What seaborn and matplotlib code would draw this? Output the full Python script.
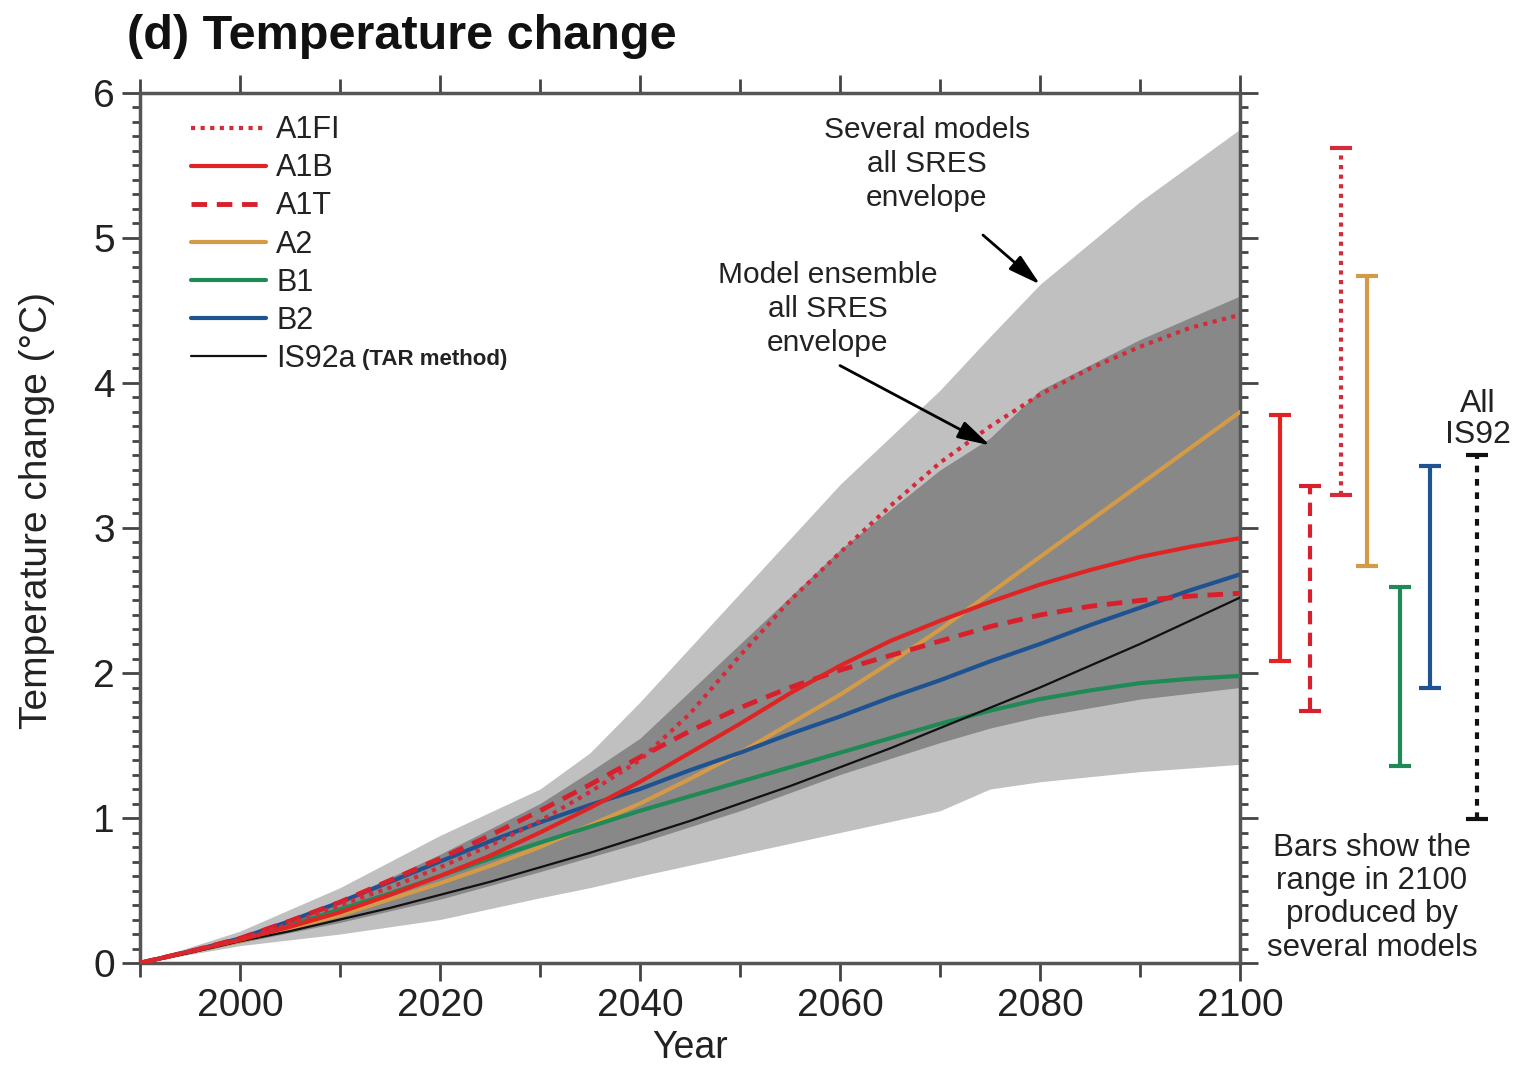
import numpy as np
import pandas as pd
import matplotlib
matplotlib.use("Agg")
import matplotlib.pyplot as plt
import seaborn as sns
from matplotlib.ticker import MultipleLocator
from matplotlib.lines import Line2D

# ---------------- data ----------------
years = [1990, 1995, 2000, 2005, 2010, 2015, 2020, 2025, 2030, 2035, 2040, 2045,
         2050, 2055, 2060, 2065, 2070, 2075, 2080, 2085, 2090, 2095, 2100]

a1fi = [0, 0.08, 0.16, 0.27, 0.40, 0.52, 0.66, 0.81, 0.98, 1.18, 1.40, 1.72,
        2.12, 2.50, 2.83, 3.15, 3.45, 3.70, 3.92, 4.10, 4.25, 4.38, 4.47]
a1b = [0, 0.08, 0.16, 0.25, 0.35, 0.47, 0.60, 0.74, 0.90, 1.07, 1.25, 1.45,
       1.65, 1.86, 2.05, 2.22, 2.36, 2.49, 2.61, 2.71, 2.80, 2.87, 2.93]
a1t = [0, 0.08, 0.17, 0.29, 0.42, 0.57, 0.72, 0.88, 1.05, 1.23, 1.42, 1.60,
       1.76, 1.90, 2.02, 2.12, 2.22, 2.32, 2.40, 2.46, 2.50, 2.53, 2.55]
a2 = [0, 0.08, 0.15, 0.24, 0.33, 0.44, 0.55, 0.67, 0.80, 0.95, 1.10, 1.27,
      1.45, 1.65, 1.85, 2.07, 2.30, 2.55, 2.80, 3.05, 3.30, 3.55, 3.80]
b1 = [0, 0.08, 0.16, 0.26, 0.37, 0.48, 0.60, 0.72, 0.83, 0.94, 1.05, 1.15,
      1.25, 1.35, 1.45, 1.55, 1.65, 1.74, 1.82, 1.88, 1.93, 1.96, 1.98]
b2 = [0, 0.08, 0.17, 0.29, 0.42, 0.56, 0.70, 0.84, 0.97, 1.09, 1.20, 1.33,
      1.45, 1.58, 1.70, 1.83, 1.95, 2.08, 2.20, 2.33, 2.45, 2.57, 2.68]
is92a = [0, 0.07, 0.15, 0.22, 0.30, 0.38, 0.47, 0.56, 0.66, 0.76, 0.87, 0.98,
         1.10, 1.22, 1.35, 1.48, 1.62, 1.76, 1.90, 2.05, 2.20, 2.36, 2.52]

env_years = [1990, 2000, 2010, 2020, 2030, 2035, 2040, 2050, 2060, 2070, 2075, 2080, 2090, 2100]
outer_hi = [0, 0.22, 0.52, 0.88, 1.20, 1.45, 1.80, 2.55, 3.30, 3.95, 4.32, 4.68, 5.25, 5.75]
outer_lo = [0, 0.12, 0.20, 0.30, 0.45, 0.52, 0.60, 0.75, 0.90, 1.05, 1.20, 1.25, 1.32, 1.37]
inner_hi = [0, 0.17, 0.43, 0.75, 1.10, 1.32, 1.55, 2.20, 2.85, 3.40, 3.62, 3.95, 4.30, 4.60]
inner_lo = [0, 0.14, 0.28, 0.44, 0.63, 0.73, 0.83, 1.05, 1.30, 1.52, 1.62, 1.70, 1.82, 1.90]

bar_names = ["A1B", "A1T", "A1FI", "A2", "B1", "B2", "IS92"]
bar_x = [2104, 2107, 2110.1, 2112.7, 2116, 2119, 2123.7]
bar_lo = [2.08, 1.74, 3.23, 2.74, 1.36, 1.90, 0.99]
bar_hi = [3.78, 3.29, 5.62, 4.74, 2.59, 3.43, 3.50]

# ---------------- styles ----------------
colors = {"A1FI": "#d42b3a", "A1B": "#e02424", "A1T": "#d8202c", "A2": "#d39a48",
          "B1": "#1f8a55", "B2": "#1f5291", "IS92a": "#111111", "IS92": "#111111"}
styles = {"A1FI": (0, (1.0, 1.3)), "A1B": "-", "A1T": (0, (3.2, 2.0)),
          "A2": "-", "B1": "-", "B2": "-", "IS92a": "-", "IS92": (0, (1.6, 1.6))}
widths = {"A1FI": 3, "A1B": 3, "A1T": 3.5, "A2": 3, "B1": 3, "B2": 3, "IS92a": 1.6}
TXT = "#222222"

sns.set_theme(style="white")
plt.rcParams["font.family"] = ["Liberation Sans", "DejaVu Sans"]

fig = plt.figure(figsize=(15.14, 10.66), dpi=100)
ax = fig.add_axes([0.0925, 0.0966, 0.7265, 0.8162])

ax.fill_between(env_years, outer_lo, outer_hi, color="#c0c0c0", lw=0, zorder=1)
ax.fill_between(env_years, inner_lo, inner_hi, color="#888888", lw=0, zorder=2)

series = {"A1FI": a1fi, "A1B": a1b, "A1T": a1t, "A2": a2, "B1": b1, "B2": b2, "IS92a": is92a}
order = ["A2", "B1", "B2", "IS92a", "A1T", "A1B", "A1FI"]
for name in order:
    df = pd.DataFrame({"Year": years, "T": series[name]})
    sns.lineplot(data=df, x="Year", y="T", ax=ax, color=colors[name],
                 linestyle=styles[name], linewidth=widths[name], zorder=5)

# legend
legend_order = ["A1FI", "A1B", "A1T", "A2", "B1", "B2", "IS92a"]
handles = [Line2D([], [], color=colors[n], linestyle=styles[n], linewidth=widths[n]) for n in legend_order]
leg = ax.legend(handles, legend_order, loc="upper left", bbox_to_anchor=(0.027, 0.999),
                frameon=False, fontsize=22, handlelength=2.45, handletextpad=0.33,
                labelspacing=0.265, borderaxespad=0.3)
for t in leg.get_texts():
    t.set_color(TXT)

# bars showing range in 2100
for n, x, lo, hi in zip(bar_names, bar_x, bar_lo, bar_hi):
    c = colors[n]
    ax.vlines(x, lo, hi, colors=c, linestyles=[styles.get(n, "-")], linewidth=3,
              clip_on=False, zorder=6)
    ax.hlines([lo, hi], x - 1.1, x + 1.1, colors=c, linewidth=3, clip_on=False, zorder=6)

ax.set_xlim(1990, 2100)
ax.set_ylim(0, 6)
ax.xaxis.set_major_locator(MultipleLocator(20))
ax.xaxis.set_minor_locator(MultipleLocator(10))
ax.yaxis.set_major_locator(MultipleLocator(1))
ax.yaxis.set_minor_locator(MultipleLocator(0.1))
ax.set_xticks([2000, 2020, 2040, 2060, 2080, 2100])
ax.tick_params(which="both", direction="out", top=True, right=True, bottom=True, left=True,
               color="#444444", width=2, labelsize=28, labelcolor=TXT)
ax.tick_params(which="major", length=13, pad=5)
ax.tick_params(which="minor", length=6)
ax.tick_params(axis="x", which="minor", length=10)
for sp in ax.spines.values():
    sp.set_color("#555555")
    sp.set_linewidth(2.5)

ax.set_xlabel("Year", fontsize=27, color=TXT)
ax.xaxis.set_label_coords(0.5, -0.077)
ax.set_ylabel("Temperature change (°C)", fontsize=28, color=TXT)
ax.yaxis.set_label_coords(-0.077, 0.52)
fig.text(0.084, 0.966, "(d) Temperature change", fontsize=35, fontweight="bold",
         va="center", ha="left", color="#111111")

# annotations
ax.text(2068.7, 5.51, "Several models\nall SRES\nenvelope", ha="center", va="center",
        fontsize=21.5, linespacing=1.28, color=TXT, zorder=8)
ax.text(2058.8, 4.51, "Model ensemble\nall SRES\nenvelope", ha="center", va="center",
        fontsize=21.5, linespacing=1.28, color=TXT, zorder=8)
arrow = dict(arrowstyle="-|>,head_length=0.9,head_width=0.25", color="black", lw=2,
             shrinkA=0, shrinkB=0, mutation_scale=22)
ax.annotate("", xy=(2080, 4.68), xytext=(2074.3, 5.02), arrowprops=arrow, zorder=8)
ax.annotate("", xy=(2075, 3.57), xytext=(2060, 4.12), arrowprops=arrow, zorder=8)

ax.text(2113.2, 0.45, "Bars show the\nrange in 2100\nproduced by\nseveral models",
        ha="center", va="center", fontsize=22.5, linespacing=1.15, color=TXT, clip_on=False)
ax.text(2123.8, 3.75, "All\nIS92", ha="center", va="center", fontsize=23,
        linespacing=1.05, color=TXT, clip_on=False)

# small "(TAR method)" after IS92a legend label
fig.canvas.draw()
bb = leg.get_texts()[-1].get_window_extent()
fig.text(bb.x1 + 6, (bb.y0 + bb.y1) / 2 - 1, "(TAR method)", transform=None,
         fontsize=16, fontweight="bold", va="center", ha="left", color=TXT)

fig.savefig("out.png", dpi=100)
